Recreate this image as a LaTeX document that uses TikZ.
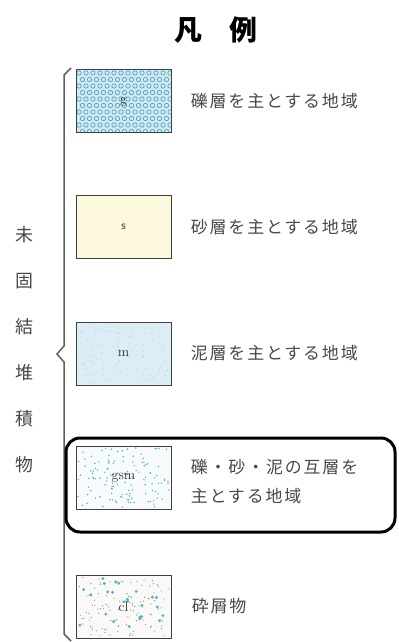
\documentclass[tikz,border=0pt]{standalone}
\usepackage{fontspec}
\newfontfamily\jp{Noto Sans CJK JP}
\newfontfamily\jpwide[LetterSpace=11]{Noto Sans CJK JP}
\usetikzlibrary{positioning}

\definecolor{inktext}{RGB}{72,72,72}
\definecolor{bracegray}{RGB}{95,95,95}
\definecolor{gravelfill}{RGB}{205,235,244}
\definecolor{gravelring}{RGB}{80,150,180}
\definecolor{sandfill}{RGB}{251,248,222}
\definecolor{mudfill}{RGB}{220,237,245}
\definecolor{mudspeck}{RGB}{170,205,222}
\definecolor{mixfill}{RGB}{247,251,251}
\definecolor{mixdot}{RGB}{80,178,196}
\definecolor{clastfill}{RGB}{249,249,247}
\definecolor{clastdot}{RGB}{120,130,130}

\begin{document}
\begin{tikzpicture}[x=1bp, y=-1bp, thick,
	legendbox/.style={draw=black!75, line width=1bp, minimum width=95bp, minimum height=63bp, inner sep=0pt, font=\rmfamily\fontsize{14}{16}\selectfont, text=black!80},
	legendlabel/.style={anchor=west, inner sep=0pt, font=\jpwide\fontsize{17}{30}\selectfont, text=inktext, align=left},
	sidechar/.style={font=\jp\fontsize{18}{20}\selectfont, text=inktext}]
	\useasboundingbox (0,0) rectangle (398,642);

	% \randdots#x#y#count#radius#color
	\def\randdots#1#2#3#4#5{
		\foreach \k in {1, ..., #3} {
			\fill[#5] ({#1 + 2 + 91 * rnd}, {#2 + 2 + 59 * rnd}) circle (#4);
		}
	}
	\pgfmathsetseed{7}

	% title
	\node[font=\jp\bfseries\fontsize{28}{32}\selectfont] (title) at (216, 30) {凡　例};

	% brace
	\draw[bracegray, line width=1.5bp] (71, 68) -- (64, 75) -- (64, 346) -- (57, 354) -- (64, 362) -- (64, 634) -- (71, 641);

	% side text
	\foreach \c [count=\i] in {未, 固, 結, 堆, 積, 物} {
		\node[sidechar] (side\i) at ({24}, {189 + 46 * \i}) {\c};
	}

	% gravel
	\begin{scope}
		\clip (76, 70) rectangle (171, 133);
		\fill[gravelfill] (76, 70) rectangle (171, 133);
		\foreach \y in {0, ..., 9} {
			\foreach \x in {0, ..., 14} {
				\pgfmathsetmacro\ox{mod(\y, 2) * 3.5}
				\draw[gravelring, line width=.6bp] ({79 + 7 * \x + \ox}, {73 + 6.5 * \y}) circle (2.2);
			}
		}
	\end{scope}
	\node[legendbox] (g) at (123.5, 101.5) {g};

	% sand
	\node[legendbox, fill=sandfill, font=\sffamily\fontsize{12}{14}\selectfont] (s) at (123.5, 227) {s};

	% mud
	\fill[mudfill] (76, 322) rectangle (171, 385);
	\randdots{76}{322}{150}{.5}{mudspeck}
	\node[legendbox] (m) at (123.5, 353.5) {m};

	% mixed
	\fill[mixfill] (76, 446) rectangle (171, 509);
	\randdots{76}{446}{130}{.8}{mixdot}
	\node[legendbox] (gsm) at (123.5, 477.5) {gsm};

	% clastic
	\fill[clastfill] (76, 575) rectangle (171, 638);
	\randdots{76}{575}{110}{.6}{clastdot}
	\randdots{76}{575}{25}{1.6}{mixdot}
	\node[legendbox] (cl) at (123.5, 606.5) {cl};

	% labels
	\node[legendlabel, right=19bp of g] (gtext) {礫層を主とする地域};
	\node[legendlabel, right=19bp of s] (stext) {砂層を主とする地域};
	\node[legendlabel, right=19bp of m] (mtext) {泥層を主とする地域};
	\node[legendlabel, right=19bp of gsm, yshift=-4bp] (gsmtext) {礫・砂・泥の互層を\\主とする地域};
	\node[legendlabel, right=20bp of cl] (cltext) {砕屑物};

	% frame
	\draw[line width=3bp, rounded corners=14bp] (66, 438) rectangle (395, 532);
\end{tikzpicture}
\end{document}
